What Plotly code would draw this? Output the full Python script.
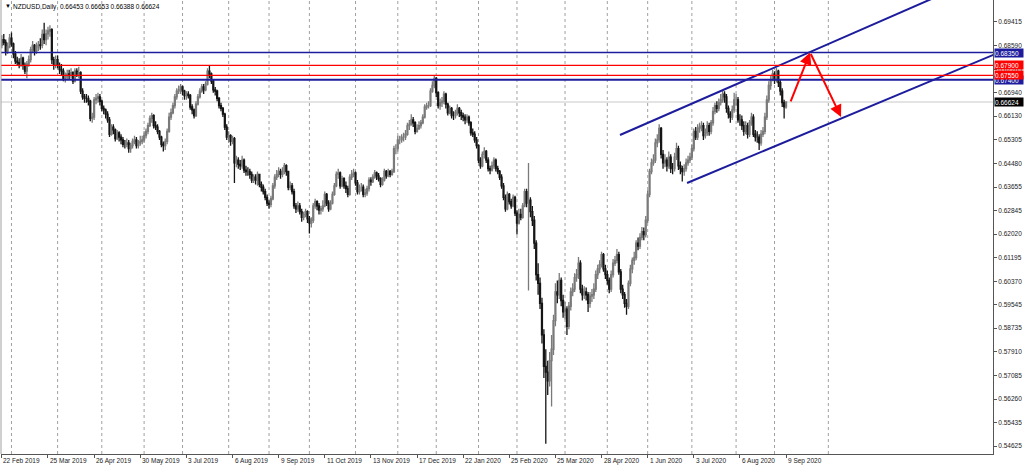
import plotly.graph_objects as go

# ---------------- data (prices in pips, 1 pip = 0.0001) ----------------
first_bar_index = -3          # bar 0 = 22 Feb 2019
first_open_pips = 6860

close_pips = [
    6880, 6870, 6840, 6855, 6885, 6865, 6830, 6805, 6800, 6795,
    6815, 6790, 6770, 6795, 6810, 6845, 6860, 6840, 6855, 6862,
    6860, 6898, 6880, 6900, 6910, 6915, 6810, 6790, 6810, 6790,
    6775, 6770, 6745, 6750, 6760, 6755, 6765, 6735, 6770, 6760,
    6765, 6700, 6680, 6675, 6675, 6665, 6605, 6610, 6670, 6675,
    6680, 6665, 6640, 6635, 6620, 6600, 6550, 6575, 6565, 6535,
    6555, 6540, 6530, 6515, 6515, 6520, 6500, 6510, 6525, 6530,
    6510, 6520, 6525, 6530, 6545, 6560, 6580, 6605, 6615, 6580,
    6575, 6560, 6540, 6515, 6510, 6525, 6560, 6610, 6625, 6650,
    6680, 6700, 6705, 6715, 6700, 6685, 6690, 6685, 6645, 6635,
    6615, 6655, 6680, 6700, 6715, 6705, 6725, 6770, 6760, 6735,
    6705, 6700, 6675, 6650, 6640, 6620, 6575, 6540, 6545, 6525,
    6535, 6450, 6460, 6445, 6440, 6460, 6425, 6420, 6420, 6410,
    6390, 6400, 6390, 6410, 6375, 6365, 6350, 6330, 6310, 6305,
    6325, 6370, 6400, 6410, 6420, 6410, 6420, 6440, 6420, 6365,
    6370, 6350, 6300, 6290, 6300, 6280, 6260, 6270, 6280, 6255,
    6240, 6250, 6300, 6315, 6300, 6285, 6290, 6300, 6340, 6310,
    6290, 6310, 6340, 6370, 6410, 6415, 6370, 6395, 6370, 6360,
    6340, 6400, 6410, 6415, 6380, 6350, 6365, 6365, 6340, 6345,
    6360, 6390, 6385, 6400, 6415, 6405, 6395, 6375, 6390, 6420,
    6405, 6420, 6410, 6420, 6500, 6500, 6530, 6530, 6540, 6540,
    6550, 6580, 6585, 6600, 6590, 6560, 6570, 6580, 6590, 6610,
    6645, 6650, 6650, 6700, 6720, 6745, 6695, 6650, 6660, 6665,
    6690, 6655, 6625, 6640, 6615, 6615, 6625, 6640, 6625, 6615,
    6610, 6600, 6610, 6590, 6555, 6550, 6530, 6510, 6460, 6440,
    6480, 6490, 6460, 6430, 6425, 6440, 6460, 6430, 6420, 6400,
    6370, 6330, 6290, 6340, 6315, 6300, 6330, 6275, 6240, 6270,
    6260, 6300, 6350, 6310, 6320, 6280, 6250, 6170, 6060, 6030,
    5960, 5850, 5740, 5720, 5690, 5760, 5800, 5900, 6000, 5990,
    6040, 5970, 5930, 5940, 5880, 5950, 6000, 6010, 6050, 6060,
    6100, 6010, 5990, 6000, 5990, 5960, 5985, 5990, 6010, 6060,
    6080, 6095, 6130, 6080, 6060, 6040, 6010, 6060, 6100, 6110,
    6130, 6070, 6010, 5990, 5960, 5950, 6030, 6080, 6110, 6120,
    6170, 6160, 6190, 6210, 6200, 6250, 6340, 6420, 6450, 6460,
    6520, 6530, 6570, 6480, 6450, 6460, 6440, 6470, 6430, 6430,
    6470, 6500, 6440, 6430, 6420, 6430, 6450, 6460, 6470, 6500,
    6560, 6540, 6570, 6575, 6580, 6545, 6555, 6580, 6560, 6590,
    6630, 6650, 6640, 6660, 6670, 6690, 6680, 6640, 6620, 6610,
    6635, 6670, 6670, 6600, 6600, 6580, 6560, 6580, 6550, 6590,
    6610, 6550, 6540, 6540, 6520, 6550, 6560, 6610, 6670, 6720,
    6740, 6760, 6740, 6770, 6730, 6700, 6660, 6645.3, 6662.4,
]

high_pips = [
    6895, 6900, 6880, 6870, 6900, 6905, 6870, 6840, 6820, 6815,
    6830, 6820, 6800, 6805, 6825, 6855, 6875, 6865, 6870, 6875,
    6885, 6915, 6939, 6915, 6925, 6930, 6920, 6820, 6825, 6825,
    6800, 6795, 6780, 6765, 6775, 6775, 6780, 6770, 6780, 6780,
    6785, 6770, 6710, 6690, 6690, 6685, 6670, 6625, 6680, 6690,
    6695, 6690, 6670, 6650, 6640, 6630, 6610, 6585, 6585, 6570,
    6565, 6560, 6550, 6540, 6530, 6535, 6530, 6520, 6535, 6545,
    6540, 6530, 6545, 6545, 6560, 6570, 6590, 6615, 6625, 6620,
    6595, 6585, 6565, 6545, 6525, 6535, 6570, 6625, 6640, 6660,
    6690, 6710, 6720, 6725, 6720, 6705, 6700, 6700, 6690, 6655,
    6640, 6665, 6690, 6710, 6725, 6725, 6735, 6780, 6790, 6765,
    6740, 6715, 6705, 6680, 6660, 6645, 6625, 6585, 6560, 6550,
    6545, 6540, 6475, 6470, 6460, 6475, 6465, 6440, 6435, 6430,
    6420, 6410, 6410, 6420, 6405, 6385, 6375, 6360, 6340, 6320,
    6335, 6380, 6410, 6425, 6435, 6430, 6435, 6450, 6445, 6420,
    6385, 6380, 6360, 6310, 6315, 6310, 6290, 6280, 6290, 6285,
    6265, 6260, 6310, 6325, 6320, 6310, 6300, 6320, 6350, 6345,
    6320, 6320, 6350, 6380, 6420, 6430, 6420, 6405, 6400, 6385,
    6370, 6410, 6425, 6430, 6420, 6390, 6375, 6380, 6375, 6360,
    6370, 6400, 6400, 6410, 6425, 6420, 6415, 6400, 6400, 6430,
    6425, 6430, 6425, 6430, 6510, 6515, 6545, 6545, 6550, 6555,
    6565, 6590, 6600, 6620, 6610, 6595, 6585, 6595, 6600, 6620,
    6655, 6660, 6665, 6710, 6735, 6756, 6750, 6700, 6675, 6680,
    6700, 6695, 6660, 6650, 6645, 6630, 6635, 6655, 6645, 6635,
    6625, 6620, 6620, 6615, 6595, 6570, 6560, 6540, 6515, 6470,
    6490, 6505, 6495, 6470, 6440, 6455, 6470, 6465, 6440, 6425,
    6410, 6380, 6340, 6350, 6345, 6325, 6340, 6335, 6285, 6290,
    6290, 6310, 6360, 6360, 6450, 6330, 6300, 6265, 6180, 6100,
    6050, 5980, 5870, 5800, 5760, 5790, 5850, 5920, 6030, 6040,
    6066, 6050, 5990, 5965, 5950, 5965, 6015, 6030, 6065, 6080,
    6122, 6110, 6025, 6020, 6015, 6000, 6000, 6010, 6030, 6075,
    6095, 6110, 6140, 6136, 6095, 6075, 6050, 6075, 6115, 6125,
    6150, 6140, 6080, 6025, 6000, 5975, 6040, 6095, 6120, 6140,
    6180, 6190, 6205, 6226, 6225, 6265, 6355, 6430, 6465, 6480,
    6535, 6550, 6585, 6575, 6495, 6480, 6470, 6490, 6480, 6450,
    6485, 6520, 6510, 6455, 6440, 6445, 6465, 6475, 6485, 6515,
    6570, 6575, 6585, 6590, 6595, 6590, 6570, 6595, 6590, 6600,
    6645, 6660, 6665, 6675, 6690, 6705, 6700, 6690, 6650, 6630,
    6650, 6695, 6690, 6680, 6620, 6615, 6595, 6595, 6590, 6600,
    6625, 6620, 6565, 6560, 6550, 6565, 6575, 6625, 6685, 6735,
    6755, 6775, 6770, 6781, 6775, 6740, 6710, 6670, 6665.3,
]

low_pips = [
    6850, 6860, 6825, 6830, 6850, 6855, 6815, 6795, 6790, 6780,
    6785, 6775, 6760, 6745, 6785, 6800, 6835, 6825, 6830, 6840,
    6845, 6850, 6865, 6860, 6880, 6890, 6795, 6775, 6780, 6780,
    6760, 6755, 6735, 6730, 6740, 6740, 6745, 6725, 6730, 6750,
    6745, 6690, 6670, 6660, 6660, 6650, 6595, 6590, 6600, 6655,
    6660, 6650, 6630, 6620, 6605, 6590, 6540, 6545, 6550, 6525,
    6530, 6525, 6515, 6505, 6500, 6505, 6485, 6485, 6500, 6515,
    6500, 6500, 6510, 6515, 6520, 6535, 6550, 6575, 6590, 6570,
    6565, 6550, 6530, 6505, 6490, 6495, 6515, 6555, 6600, 6620,
    6640, 6670, 6690, 6690, 6685, 6670, 6670, 6675, 6635, 6620,
    6605, 6610, 6650, 6675, 6695, 6690, 6700, 6720, 6745, 6725,
    6695, 6685, 6665, 6640, 6630, 6610, 6565, 6530, 6520, 6510,
    6515, 6380, 6435, 6430, 6425, 6430, 6415, 6405, 6405, 6395,
    6380, 6380, 6375, 6370, 6365, 6350, 6340, 6320, 6300, 6290,
    6295, 6320, 6360, 6390, 6400, 6395, 6400, 6410, 6405, 6355,
    6355, 6340, 6290, 6275, 6280, 6270, 6245, 6250, 6260, 6240,
    6204, 6225, 6240, 6290, 6285, 6270, 6270, 6280, 6295, 6300,
    6280, 6285, 6305, 6335, 6365, 6395, 6360, 6365, 6360, 6345,
    6330, 6335, 6390, 6400, 6370, 6340, 6340, 6350, 6330, 6330,
    6335, 6350, 6370, 6380, 6395, 6390, 6385, 6365, 6370, 6385,
    6395, 6400, 6400, 6405, 6415, 6480, 6490, 6515, 6520, 6525,
    6530, 6545, 6565, 6580, 6575, 6550, 6555, 6565, 6570, 6585,
    6605, 6635, 6640, 6645, 6695, 6710, 6680, 6640, 6635, 6645,
    6655, 6640, 6615, 6620, 6605, 6600, 6605, 6615, 6610, 6600,
    6595, 6585, 6590, 6580, 6545, 6540, 6520, 6500, 6450, 6430,
    6435, 6465, 6450, 6420, 6410, 6420, 6430, 6420, 6410, 6390,
    6360, 6320, 6280, 6285, 6305, 6290, 6295, 6265, 6200, 6235,
    6250, 6255, 6295, 6295, 6005, 6260, 6230, 6150, 6040, 5990,
    5940, 5820, 5700, 5470, 5640, 5670, 5600, 5780, 5880, 5960,
    5975, 5950, 5910, 5905, 5850, 5870, 5935, 5985, 6000, 6035,
    6045, 5995, 5970, 5975, 5970, 5930, 5945, 5965, 5975, 6000,
    6045, 6065, 6085, 6070, 6045, 6025, 5995, 6000, 6050, 6090,
    6100, 6060, 5995, 5975, 5945, 5920, 5940, 6020, 6065, 6095,
    6110, 6145, 6150, 6180, 6180, 6190, 6240, 6330, 6410, 6440,
    6450, 6505, 6520, 6465, 6430, 6435, 6420, 6430, 6415, 6410,
    6420, 6460, 6425, 6410, 6385, 6405, 6420, 6440, 6450, 6460,
    6490, 6530, 6530, 6555, 6560, 6530, 6535, 6545, 6545, 6550,
    6580, 6620, 6625, 6630, 6650, 6660, 6660, 6625, 6605, 6590,
    6600, 6625, 6650, 6590, 6580, 6565, 6545, 6550, 6535, 6540,
    6580, 6540, 6525, 6520, 6495, 6510, 6540, 6550, 6600, 6660,
    6705, 6735, 6725, 6730, 6715, 6685, 6645, 6605, 6638.8,
]

# axis text
y_tick_values = [0.69415, 0.68590, 0.67765, 0.66940, 0.66130, 0.65305, 0.64480,
                 0.63655, 0.62845, 0.62020, 0.61195, 0.60370, 0.59545, 0.58735,
                 0.57910, 0.57085, 0.56260, 0.55435, 0.54625]
left_edge_label = "22 Feb 2019"
x_label_texts = ["25 Mar 2019", "26 Apr 2019", "30 May 2019", "3 Jul 2019",
                 "6 Aug 2019", "9 Sep 2019", "11 Oct 2019", "13 Nov 2019",
                 "17 Dec 2019", "22 Jan 2020", "25 Feb 2020", "25 Mar 2020",
                 "28 Apr 2020", "1 Jun 2020", "3 Jul 2020", "6 Aug 2020",
                 "9 Sep 2020"]
first_label_bar = 21
label_step_bars = 24
month_start_bars = [2, 26, 49, 71, 91, 115, 136, 157, 181, 203, 223, 245, 265,
                    290, 312, 333, 356, 379, 399, 427]

# drawn objects (bar index, price)
blue_levels = [0.68350, 0.67400]
red_levels = [0.67900, 0.67550]
channel_upper = [(318.6, 0.65473), (490.0, 0.70492)]
channel_lower = [(353.5, 0.63800), (520.0, 0.68470)]
arrow_up = [(407.1, 0.66590), (417.5, 0.68350)]
arrow_down = [(417.5, 0.68350), (433.6, 0.66101)]

symbol_title = "NZDUSD,Daily"

# ---------------- build ----------------
closes = [v / 10000 for v in close_pips]
opens = [first_open_pips / 10000] + closes[:-1]
highs = [max(h / 10000, o, c) for h, o, c in zip(high_pips, opens, closes)]
lows = [min(l / 10000, o, c) for l, o, c in zip(low_pips, opens, closes)]
bars = list(range(first_bar_index, first_bar_index + len(closes)))

X_RANGE = [-3.45, 512.67]
Y_RANGE = [0.54346, 0.70182]
NAVY = "#1c1c9c"
FONT = "Liberation Sans"

fig = go.Figure()

fig.add_trace(go.Candlestick(
    x=bars, open=opens, high=highs, low=lows, close=closes,
    increasing=dict(line=dict(color="#7a7a7a", width=1.3), fillcolor="#a8a8a8"),
    decreasing=dict(line=dict(color="#151515", width=1.3), fillcolor="#151515"),
    whiskerwidth=0, hoverinfo="skip", showlegend=False,
))

for pts in (channel_upper, channel_lower):
    fig.add_trace(go.Scatter(
        x=[p[0] for p in pts], y=[p[1] for p in pts], mode="lines",
        line=dict(color=NAVY, width=2), hoverinfo="skip", showlegend=False,
    ))

shapes = []
for b in month_start_bars:
    shapes.append(dict(type="line", xref="x", yref="paper", x0=b, x1=b, y0=0, y1=1,
                       line=dict(color="#a0a0a0", width=1, dash="dot"), layer="below"))
shapes.append(dict(type="line", xref="paper", yref="y", x0=0, x1=1,
                   y0=closes[-1], y1=closes[-1],
                   line=dict(color="#c8c8c8", width=1), layer="below"))
for lv, w in zip(blue_levels, (1.5, 2)):
    shapes.append(dict(type="line", xref="paper", yref="y", x0=0, x1=1, y0=lv, y1=lv,
                       line=dict(color=NAVY, width=w), layer="above"))
for lv in red_levels:
    shapes.append(dict(type="line", xref="paper", yref="y", x0=0, x1=1, y0=lv, y1=lv,
                       line=dict(color="#ff0000", width=1.2), layer="above"))
shapes.append(dict(type="line", xref="paper", yref="paper", x0=0, x1=0, y0=0, y1=1,
                   line=dict(color="#a0a0a0", width=1), layer="above"))

annotations = []
# title
annotations.append(dict(xref="paper", yref="paper", x=0.002, y=1, xanchor="left",
                        yanchor="top", yshift=-1, showarrow=False, text="▼",
                        font=dict(family=FONT, size=6, color="#000")))
annotations.append(dict(xref="paper", yref="paper", x=0.010, y=1, xanchor="left",
                        yanchor="top", yshift=-1, showarrow=False,
                        text=f"{symbol_title}  {opens[-1]:.5f} {highs[-1]:.5f} "
                             f"{lows[-1]:.5f} {closes[-1]:.5f}",
                        font=dict(family=FONT, size=6.5, color="#000")))
# x labels
label_bars = [first_label_bar + i * label_step_bars for i in range(len(x_label_texts))]
annotations.append(dict(xref="paper", yref="paper", x=0, y=0, xanchor="left",
                        yanchor="top", yshift=-1, showarrow=False, text=left_edge_label,
                        font=dict(family=FONT, size=6.5, color="#222")))
for b, t in zip(label_bars, x_label_texts):
    annotations.append(dict(xref="x", yref="paper", x=b, y=0, xanchor="left",
                            yanchor="top", yshift=-1, showarrow=False, text=t,
                            font=dict(family=FONT, size=6.5, color="#222")))
# price boxes on the axis
box_items = ([(lv, NAVY) for lv in blue_levels[::-1]] +
             [(lv, "#ff0000") for lv in red_levels[::-1]] +
             [(closes[-1], "#000000")])
for lv, col in box_items:
    annotations.append(dict(xref="paper", yref="y", x=1, y=lv, xanchor="left",
                            yanchor="middle", xshift=1, showarrow=False,
                            text=f"{lv:.5f}", bgcolor=col, borderpad=0,
                            width=28, height=8, align="left",
                            font=dict(family=FONT, size=6.5, color="#ffffff")))
# arrows
for (x0, y0), (x1, y1) in (arrow_up, arrow_down):
    annotations.append(dict(xref="x", yref="y", axref="x", ayref="y",
                            x=x1, y=y1, ax=x0, ay=y0, showarrow=True,
                            arrowhead=2, arrowsize=1.2, arrowwidth=2,
                            arrowcolor="#ff0000", text=""))

fig.update_layout(
    width=1024, height=467,
    margin=dict(l=1, r=31, t=0, b=13, pad=0),
    paper_bgcolor="#ffffff", plot_bgcolor="#ffffff",
    showlegend=False,
    shapes=shapes, annotations=annotations,
    xaxis=dict(range=X_RANGE, rangeslider=dict(visible=False), showgrid=False,
               zeroline=False, showline=True, linecolor="#555555", linewidth=1,
               ticks="outside", ticklen=3, tickcolor="#555555",
               tickvals=[X_RANGE[0] + 0.5] + label_bars, showticklabels=False,
               fixedrange=True),
    yaxis=dict(range=Y_RANGE, side="right", showgrid=False, zeroline=False,
               showline=True, linecolor="#555555", linewidth=1,
               ticks="outside", ticklen=3, tickcolor="#555555",
               tickvals=y_tick_values, ticktext=[f"{v:.5f}" for v in y_tick_values],
               tickfont=dict(family=FONT, size=6.5, color="#222"),
               fixedrange=True),
)

fig.write_html("out.html", config={"displayModeBar": False},
               post_script="document.body.style.margin='0';document.body.style.overflow='hidden';")
